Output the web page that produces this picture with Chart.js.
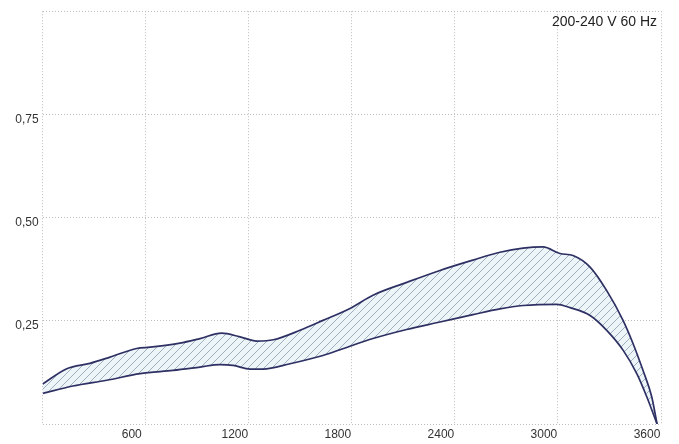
<!DOCTYPE html>
<html>
<head>
<meta charset="utf-8">
<script src="https://cdn.jsdelivr.net/npm/chart.js@4"></script>
<style>
  html, body { margin: 0; padding: 0; background: #fff; }
  #wrap { width: 679px; height: 444px; }
</style>
</head>
<body>
<div id="wrap"><canvas id="chart" width="679" height="444"></canvas></div>
<script>
// upper and lower boundary of the band
const upperRpm = [0, 140, 275, 392, 547, 625, 799, 916, 1042, 1149, 1246, 1343, 1498, 1632, 1789, 1923, 2119, 2313, 2505, 2662, 2797, 2913, 3012, 3088, 3187, 3284, 3379, 3437, 3495, 3546, 3577];
const upperVal = [0.097, 0.134, 0.147, 0.162, 0.183, 0.186, 0.196, 0.207, 0.220, 0.211, 0.201, 0.204, 0.227, 0.251, 0.280, 0.312, 0.343, 0.372, 0.397, 0.416, 0.426, 0.429, 0.413, 0.408, 0.380, 0.323, 0.251, 0.195, 0.130, 0.066, 0];

const lowerRpm = [0, 176, 373, 567, 759, 916, 1032, 1108, 1207, 1283, 1440, 1632, 1731, 1923, 2119, 2313, 2505, 2662, 2797, 2993, 3070, 3187, 3284, 3379, 3459, 3517, 3577];
const lowerVal = [0.074, 0.092, 0.106, 0.122, 0.130, 0.138, 0.144, 0.142, 0.133, 0.133, 0.146, 0.166, 0.180, 0.207, 0.229, 0.247, 0.265, 0.279, 0.287, 0.290, 0.282, 0.263, 0.227, 0.179, 0.122, 0.066, 0];

const xTicks = [600, 1200, 1800, 2400, 3000, 3600];
const yTicks = [0.25, 0.5, 0.75];
const title = '200-240 V 60 Hz';

function toPoints(xs, ys) {
  return xs.map((x, i) => ({ x: x, y: ys[i] }));
}

// diagonal hatch for the band
function makeHatch() {
  const c = document.createElement('canvas');
  c.width = 8; c.height = 8;
  const g = c.getContext('2d');
  g.fillStyle = '#edf5f8';
  g.fillRect(0, 0, 8, 8);
  g.strokeStyle = '#93a9b6';
  g.lineWidth = 0.9;
  g.beginPath();
  g.moveTo(0, 8); g.lineTo(8, 0);
  g.moveTo(-1, 1); g.lineTo(1, -1);
  g.moveTo(7, 9); g.lineTo(9, 7);
  g.stroke();
  return g.createPattern(c, 'repeat');
}

const titlePlugin = {
  id: 'cornerTitle',
  afterDraw(chart) {
    const ctx = chart.ctx;
    const a = chart.chartArea;
    ctx.save();
    ctx.font = '14px "Liberation Sans", Arial, sans-serif';
    ctx.fillStyle = '#222';
    ctx.textAlign = 'right';
    ctx.textBaseline = 'alphabetic';
    ctx.fillText(title, a.right - 4, a.top + 15);
    ctx.restore();
  }
};

const lineColor = '#2e3063';
const gridColor = '#bdbdbd';

new Chart(document.getElementById('chart').getContext('2d'), {
  type: 'line',
  data: {
    datasets: [
      {
        data: toPoints(upperRpm, upperVal),
        borderColor: lineColor,
        borderWidth: 1.7,
        backgroundColor: makeHatch(),
        fill: '+1',
        pointRadius: 0,
        cubicInterpolationMode: 'monotone'
      },
      {
        data: toPoints(lowerRpm, lowerVal),
        borderColor: lineColor,
        borderWidth: 1.7,
        fill: false,
        pointRadius: 0,
        cubicInterpolationMode: 'monotone'
      }
    ]
  },
  options: {
    responsive: false,
    animation: false,
    layout: { padding: { top: 9.5, right: 18, left: 0, bottom: 0 } },
    plugins: {
      legend: { display: false },
      tooltip: { enabled: false },
      filler: { drawTime: 'beforeDatasetsDraw' }
    },
    scales: {
      x: {
        type: 'linear',
        min: 0,
        max: 3600,
        afterFit(s) { s.height = 20; },
        grid: { color: gridColor, drawTicks: false, lineWidth: 1 },
        border: { display: false, dash: [1, 2] },
        ticks: {
          stepSize: 600,
          padding: 3,
          labelOffset: -14,
          color: '#333',
          font: { family: '"Liberation Sans", Arial, sans-serif', size: 12 },
          callback: v => xTicks.includes(v) ? String(v) : ''
        }
      },
      y: {
        min: 0,
        max: 1,
        afterFit(s) { s.width = 42.7; },
        grid: { color: gridColor, drawTicks: false, lineWidth: 1 },
        border: { display: false, dash: [1, 2] },
        ticks: {
          stepSize: 0.25,
          padding: 4,
          labelOffset: 5,
          color: '#333',
          font: { family: '"Liberation Sans", Arial, sans-serif', size: 12 },
          callback: v => yTicks.includes(v) ? v.toFixed(2).replace('.', ',') : ''
        }
      }
    }
  },
  plugins: [titlePlugin]
});
</script>
</body>
</html>
